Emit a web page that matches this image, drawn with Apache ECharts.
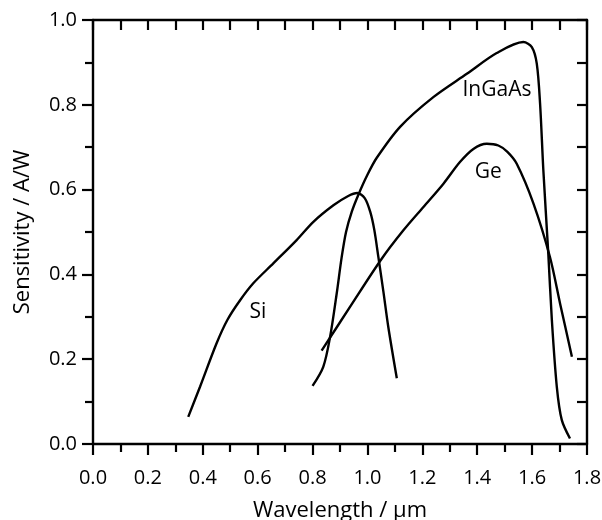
<!DOCTYPE html>
<html>
<head>
<meta charset="utf-8">
<script src="https://cdn.jsdelivr.net/npm/echarts@6/dist/echarts.min.js"></script>
<style>
  html, body { margin: 0; padding: 0; background: #fff; }
  #chart { width: 602px; height: 520px; }
</style>
</head>
<body>
<div id="chart"></div>
<script>
// values (wavelength in µm, sensitivity in A/W)
var siX = [0.347, 0.39, 0.45, 0.49, 0.536, 0.584, 0.657, 0.742, 0.803, 0.876, 0.93, 0.963, 0.99, 1.01, 1.025, 1.04, 1.058, 1.076, 1.107];
var siY = [0.064, 0.135, 0.237, 0.293, 0.339, 0.379, 0.426, 0.481, 0.524, 0.563, 0.585, 0.592, 0.58, 0.548, 0.505, 0.44, 0.36, 0.276, 0.155];

var ingaasX = [0.80, 0.839, 0.864, 0.888, 0.906, 0.922, 0.943, 0.967, 1.0, 1.034, 1.119, 1.24, 1.362, 1.471, 1.568, 1.599, 1.617, 1.629, 1.641, 1.659, 1.672, 1.69, 1.708, 1.738];
var ingaasY = [0.137, 0.182, 0.253, 0.355, 0.44, 0.50, 0.548, 0.588, 0.635, 0.675, 0.748, 0.818, 0.873, 0.922, 0.948, 0.936, 0.897, 0.803, 0.645, 0.449, 0.292, 0.135, 0.057, 0.013];

var geX = [0.833, 0.94, 1.052, 1.131, 1.204, 1.277, 1.337, 1.386, 1.435, 1.477, 1.51, 1.544, 1.605, 1.665, 1.702, 1.745];
var geY = [0.22, 0.327, 0.437, 0.504, 0.559, 0.614, 0.665, 0.696, 0.708, 0.704, 0.689, 0.661, 0.567, 0.441, 0.331, 0.206];

var curveNames = ['Si', 'InGaAs', 'Ge'];
var labelX = [0.601, 1.472, 1.44];
var labelY = [0.312, 0.834, 0.641];

function pairs(xs, ys) {
    var out = [];
    for (var i = 0; i < xs.length; i ++)
        out.push([xs[i], ys[i]]);
    return out;
}

var FONT = '"Open Sans", sans-serif';
var lineStyle = {color: '#000', width: 2.4};
var axisLine = {show: true, onZero: false, lineStyle: {color: '#000', width: 2.4}};

function makeSeries(name, data, i) {
    return {
        type: 'line',
        name: name,
        data: data,
        smooth: 0.3,
        showSymbol: false,
        silent: true,
        lineStyle: lineStyle,
        markPoint: {
            symbol: 'circle',
            symbolSize: 0,
            silent: true,
            label: {
                show: true,
                position: 'inside',
                formatter: name,
                color: '#000',
                fontFamily: FONT,
                fontSize: 21
            },
            data: [{coord: [labelX[i], labelY[i]]}]
        }
    };
}

var option = {
    animation: false,
    grid: {left: 93, top: 20, right: 15, bottom: 76, outerBoundsMode: 'none', containLabel: false},
    xAxis: [
        {
            type: 'value',
            min: 0, max: 1.8, interval: 0.2,
            name: 'Wavelength / µm',
            nameLocation: 'middle',
            nameGap: 56,
            nameTextStyle: {color: '#000', fontFamily: FONT, fontSize: 22},
            axisLine: axisLine,
            axisTick: {show: true, length: 11, lineStyle: {color: '#000', width: 2.2}},
            minorTick: {show: true, splitNumber: 2, length: 8, lineStyle: {color: '#000', width: 2.2}},
            axisLabel: {
                color: '#000', fontFamily: FONT, fontSize: 20, margin: 24,
                formatter: function (v) { return v.toFixed(1); }
            },
            splitLine: {show: false}
        },
        {
            type: 'value', position: 'top',
            min: 0, max: 1.8, interval: 0.2,
            axisLine: axisLine,
            axisTick: {show: true, inside: true, length: 10, lineStyle: {color: '#000', width: 2.2}},
            minorTick: {show: true, splitNumber: 2, length: 10, lineStyle: {color: '#000', width: 2.2}},
            axisLabel: {show: false},
            splitLine: {show: false}
        }
    ],
    yAxis: [
        {
            type: 'value',
            min: 0, max: 1.0, interval: 0.2,
            name: 'Sensitivity / A/W',
            nameLocation: 'middle',
            nameGap: 59,
            nameTextStyle: {color: '#000', fontFamily: FONT, fontSize: 22},
            axisLine: axisLine,
            axisTick: {show: true, length: 11, lineStyle: {color: '#000', width: 2.2}},
            minorTick: {show: true, splitNumber: 2, length: 8, lineStyle: {color: '#000', width: 2.2}},
            axisLabel: {
                color: '#000', fontFamily: FONT, fontSize: 20, margin: 16,
                formatter: function (v) { return v.toFixed(1); }
            },
            splitLine: {show: false}
        },
        {
            type: 'value', position: 'right',
            min: 0, max: 1.0, interval: 0.2,
            axisLine: axisLine,
            axisTick: {show: true, inside: true, length: 10, lineStyle: {color: '#000', width: 2.2}},
            minorTick: {show: true, splitNumber: 2, length: 10, lineStyle: {color: '#000', width: 2.2}},
            axisLabel: {show: false},
            splitLine: {show: false}
        }
    ],
    series: [
        makeSeries(curveNames[0], pairs(siX, siY), 0),
        makeSeries(curveNames[1], pairs(ingaasX, ingaasY), 1),
        makeSeries(curveNames[2], pairs(geX, geY), 2)
    ]
};

var chart = echarts.init(document.getElementById('chart'));
chart.setOption(option);
</script>
</body>
</html>
